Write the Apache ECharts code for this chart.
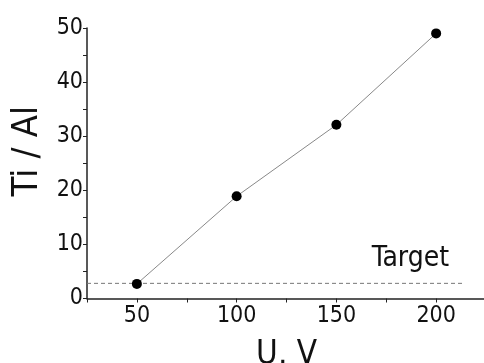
<!DOCTYPE html>
<html>
<head>
<meta charset="utf-8">
<script src="https://cdn.jsdelivr.net/npm/echarts@6/dist/echarts.min.js"></script>
<style>
  html, body { margin: 0; padding: 0; background: #fff; }
  #chart { width: 484px; height: 363px; }
</style>
</head>
<body>
<div id="chart"></div>
<script>
  // voltage and Ti/Al ratio
  var voltage = [50, 100, 150, 200]
  var ratio = [2.7, 18.9, 32.1, 49.0]
  // target level, drawn as dashed line
  var targetX = [25, 214]
  var targetY = 2.8

  var font = '"DejaVu Sans Condensed", "Liberation Sans Narrow", "DejaVu Sans", sans-serif'

  var myChart = echarts.init(document.getElementById('chart'))

  var option = {
      animation: false,
      grid: {
          left: 87,
          right: -2,
          top: 28,
          bottom: 64.5,
          outerBoundsMode: 'none',
          containLabel: false
      },
      xAxis: {
          type: 'value',
          min: 25,
          max: 225,
          interval: 25,
          name: 'U, V',
          nameLocation: 'middle',
          nameGap: 40,
          nameTextStyle: { fontFamily: font, fontSize: 33, color: '#111' },
          axisLine: { lineStyle: { color: '#222', width: 1.5 } },
          axisTick: { inside: false, length: 4, lineStyle: { color: '#222' } },
          axisLabel: {
              fontFamily: font,
              fontSize: 23,
              color: '#111',
              margin: 6,
              formatter: function(v) {
                  return (v % 50 === 0 && v <= 200) ? v : ''
              }
          },
          splitLine: { show: false }
      },
      yAxis: {
          type: 'value',
          min: 0,
          max: 50,
          interval: 5,
          name: 'Ti / Al',
          nameLocation: 'middle',
          nameGap: 40,
          nameTextStyle: { fontFamily: font, fontSize: 36, color: '#111', padding: [0, 0, 0, 24] },
          axisLine: { lineStyle: { color: '#222', width: 1.5 } },
          axisTick: { inside: false, length: 4, lineStyle: { color: '#222' } },
          axisLabel: {
              fontFamily: font,
              fontSize: 23,
              color: '#111',
              margin: 4,
              formatter: function(v) {
                  return v % 10 === 0 ? v : ''
              }
          },
          splitLine: { show: false }
      },
      series: [{
              type: 'line',
              data: voltage.map(function(v, i) { return [v, ratio[i]] }),
              symbol: 'circle',
              symbolSize: 10,
              itemStyle: { color: '#000' },
              lineStyle: { color: '#888', width: 1 },
              z: 3
          }, {
              type: 'line',
              data: targetX.map(function(v) { return [v, targetY] }),
              symbol: 'none',
              lineStyle: { color: '#777', width: 1, type: [4, 3] },
              endLabel: {
                  show: true,
                  formatter: 'Target',
                  fontFamily: font,
                  fontSize: 28,
                  color: '#111',
                  align: 'right',
                  verticalAlign: 'bottom',
                  offset: [-23, -11]
              },
              z: 2
          }

      ]
  }
  myChart.setOption(option)
</script>
</body>
</html>
